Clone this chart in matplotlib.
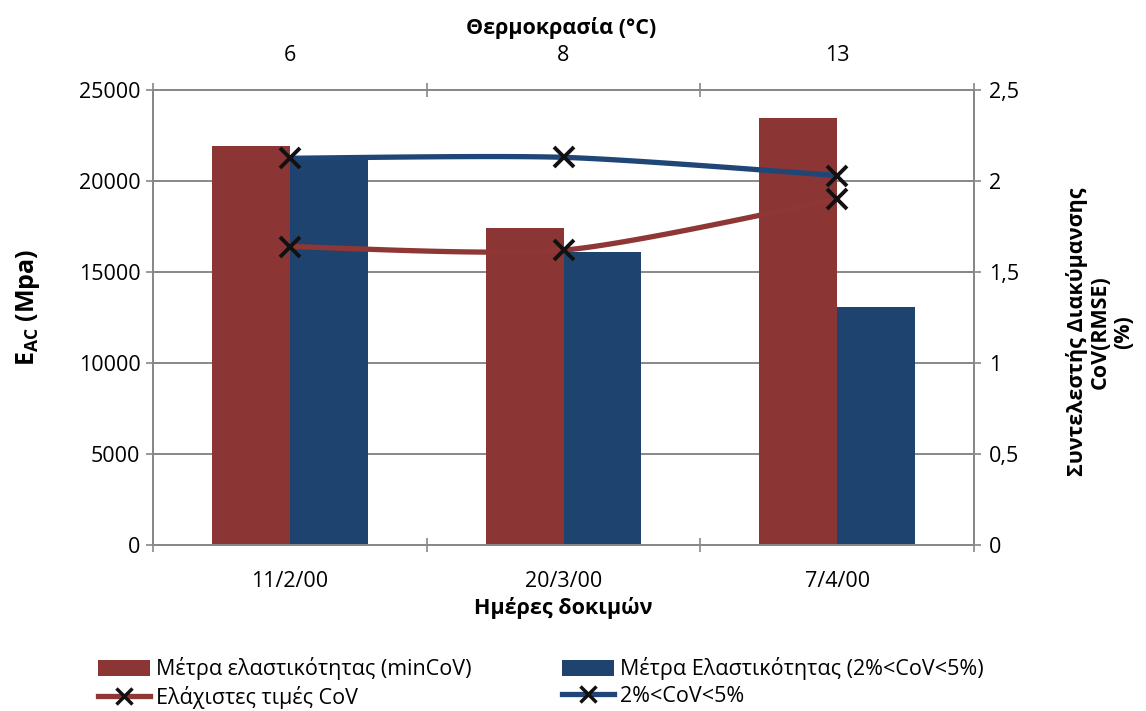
import numpy as np
import matplotlib
matplotlib.use("Agg")
import matplotlib.pyplot as plt
from matplotlib.lines import Line2D
from matplotlib.ticker import FixedLocator, FuncFormatter

plt.rcParams['font.family'] = ['Open Sans', 'DejaVu Sans']
plt.rcParams['mathtext.fontset'] = 'custom'
plt.rcParams['mathtext.rm'] = 'Open Sans'
plt.rcParams['mathtext.bf'] = 'Open Sans:bold'

# ---- data ----
dates = ["11/2/00", "20/3/00", "7/4/00"]
temps = ["6", "8", "13"]
e_mincov = [21900, 17400, 23450]
e_range = [21350, 16100, 13080]
cov_min = [1.64, 1.62, 1.90]
cov_range = [2.125, 2.13, 2.03]

RED = "#8B3535"
BLUE = "#1F436F"
RED_L = "#8E3734"
BLUE_L = "#1F4676"
GRID = "#888888"
FS = 15.5

fig = plt.figure(figsize=(11.46, 7.11), dpi=100)
ax = fig.add_axes([153/1146, 1-545/711, (974-153)/1146, (545-90)/711])

x = np.arange(len(dates))
w = 0.285
b1 = ax.bar(x - w/2, e_mincov, w, color=RED, zorder=2)
b2 = ax.bar(x + w/2, e_range, w, color=BLUE, zorder=2)
ax.set_xlim(-0.5, 2.5)
ax.set_ylim(0, 25000)
ax.set_yticks(np.arange(0, 25001, 5000))
ax.set_axisbelow(True)
ax.yaxis.grid(True, color=GRID, linewidth=1.4)
ax.tick_params(axis='y', labelsize=FS, direction='inout', length=10, color=GRID, width=1.2, pad=4)
ax.xaxis.set_major_locator(FixedLocator([-0.5, 0.5, 1.5, 2.5]))
ax.xaxis.set_major_formatter(FuncFormatter(lambda v, p: ""))
ax.xaxis.set_minor_locator(FixedLocator(list(x)))
ax.set_xticklabels(dates, minor=True)
ax.tick_params(axis='x', which='major', direction='inout', length=10, color=GRID, width=1.2)
ax.tick_params(axis='x', which='minor', length=0, labelsize=FS, pad=19)
for s in ax.spines.values():
    s.set_color(GRID)
    s.set_linewidth(1.4)
ax.set_xlabel("Ημέρες δοκιμών", fontsize=FS, fontweight='bold', labelpad=3)

# secondary y axis
ax2 = ax.twinx()
ax2.set_ylim(0, 2.5)
ax2.set_yticks(np.arange(0, 2.51, 0.5))
ax2.yaxis.set_major_formatter(FuncFormatter(lambda v, p: ("%g" % v).replace(".", ",")))
ax2.tick_params(axis='y', labelsize=FS, direction='inout', length=10, color=GRID, width=1.2, pad=6)
for s in ax2.spines.values():
    s.set_color(GRID)
    s.set_linewidth(1.4)


def smooth_path(xs, ys, n=60, k=8.0):
    pts = np.column_stack([xs, ys]).astype(float)
    out = [pts[0]]
    m = len(pts)
    for i in range(m - 1):
        p0 = pts[i - 1] if i > 0 else pts[i]
        p1 = pts[i]
        p2 = pts[i + 1]
        p3 = pts[i + 2] if i + 2 < m else pts[i + 1]
        c1 = p1 + (p2 - p0) / k
        c2 = p2 - (p3 - p1) / k
        t = np.linspace(0, 1, n)[1:, None]
        seg = (1-t)**3*p1 + 3*(1-t)**2*t*c1 + 3*(1-t)*t**2*c2 + t**3*p2
        out.extend(seg)
    out = np.array(out)
    return out[:, 0], out[:, 1]

sx, sy = smooth_path(x, cov_min)
ax2.plot(sx, sy, color=RED_L, lw=3.8, solid_capstyle='butt', zorder=3)
ax2.plot(x, cov_min, ls='none', marker='x', ms=14, mew=2.8, color='#111111', zorder=4)
sx, sy = smooth_path(x, cov_range)
ax2.plot(sx, sy, color=BLUE_L, lw=3.8, solid_capstyle='butt', zorder=3)
ax2.plot(x, cov_range, ls='none', marker='x', ms=14, mew=2.8, color='#111111', zorder=4)

# top axis (temperature)
ax3 = ax.twiny()
ax3.set_xlim(ax.get_xlim())
ax3.xaxis.set_major_locator(FixedLocator([-0.5, 0.5, 1.5, 2.5]))
ax3.xaxis.set_major_formatter(FuncFormatter(lambda v, p: ""))
ax3.xaxis.set_minor_locator(FixedLocator(list(x)))
ax3.set_xticklabels(temps, minor=True)
ax3.tick_params(axis='x', which='major', direction='inout', length=10, color=GRID, width=1.2)
ax3.tick_params(axis='x', which='minor', length=0, labelsize=FS, pad=17)
for s in ax3.spines.values():
    s.set_color(GRID)
    s.set_linewidth(1.4)

# axis titles
fig.text(561/1146, 1-28/711, "Θερμοκρασία (°C)", fontsize=FS, fontweight='bold',
         ha='center', va='center')
fig.text(28/1146, 1-307/711, r"$\mathbf{E_{AC}}$ (Mpa)", fontsize=18, fontweight='bold',
         ha='center', va='center', rotation=90)
fig.text(1100/1146, 1-332/711, "Συντελεστής Διακύμανσης\nCoV(RMSE)\n(%)", fontsize=FS,
         fontweight='bold', ha='center', va='center', rotation=90, linespacing=1.12,
         multialignment='center')

# legend
h_red_line = Line2D([], [], color=RED_L, lw=3.8, marker='x', ms=11, mew=2.5, mec='#111111')
h_blue_line = Line2D([], [], color=BLUE_L, lw=3.8, marker='x', ms=11, mew=2.5, mec='#111111')
fig.legend([b1, h_red_line, b2, h_blue_line],
           ["Μέτρα ελαστικότητας (minCoV)", "Ελάχιστες τιμές CoV",
            "Μέτρα Ελαστικότητας (2%<CoV<5%)", "2%<CoV<5%"],
           ncol=2, loc='lower left', bbox_to_anchor=(83/1146, -0.018), frameon=False,
           fontsize=FS, handlelength=2.4, handleheight=0.75, handletextpad=0.3,
           columnspacing=4.2, labelspacing=0.25, borderpad=0.2)

fig.savefig("out.png", dpi=100)
